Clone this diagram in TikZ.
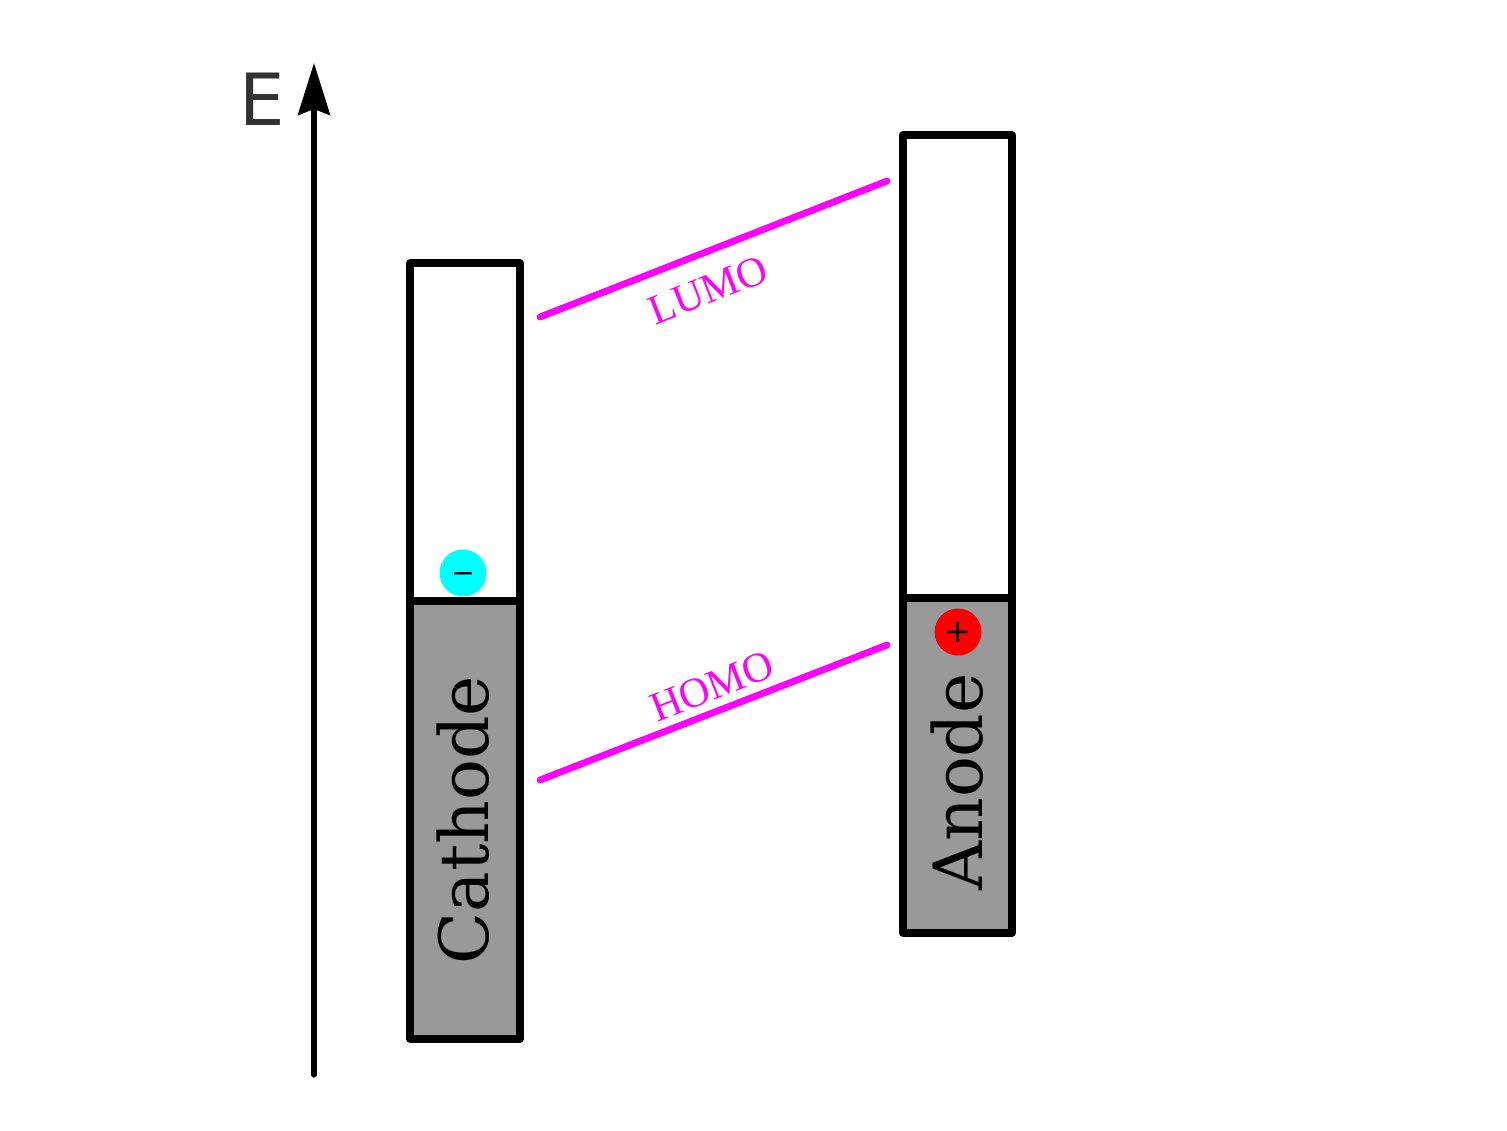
\documentclass[tikz,border=0pt]{standalone}
\usepackage{fontspec}
\setmainfont{Liberation Serif}
\newfontfamily\bandfont{DejaVu Serif}
\newfontfamily\efont{DejaVu Sans}
\newfontfamily\signfont{DejaVu Sans}
\usetikzlibrary{arrows.meta}
\definecolor{levelmag}{RGB}{255,0,255}
\definecolor{bandgray}{RGB}{153,153,153}
\definecolor{edark}{RGB}{51,51,51}
\definecolor{holecyan}{RGB}{0,255,255}
\definecolor{elred}{RGB}{255,0,0}
\begin{document}
\begin{tikzpicture}[x=0.5pt,y=-0.5pt,
  bandbox/.style={draw=black, line width=3.6pt, line join=round},
  levelline/.style={draw=levelmag, line width=3.4pt, line cap=round},
  levellabel/.style={text=levelmag, font=\fontsize{21}{21}\selectfont, inner sep=0pt},
  bandlabel/.style={font=\bandfont\fontsize{34}{34}\selectfont, rotate=90, inner sep=0pt},
  charge/.style={circle, minimum size=23.5pt, inner sep=0pt}]
\useasboundingbox (0,0) rectangle (1507,1130);
% axis
\coordinate (axb) at (314,1075);
\coordinate (axt) at (314,63);
\draw[line width=2.6pt, line cap=round, -{Stealth[length=26pt,width=16pt,inset=3pt]}] (axb) -- (axt);
\node[text=edark, font=\efont\fontsize{36}{36}\selectfont, inner sep=0pt] (E) at (262,99) {E};
% cathode
\filldraw[bandbox, fill=white] (410,263) rectangle (520,601);
\filldraw[bandbox, fill=bandgray] (410,601) rectangle (520,1039);
\node[bandlabel] (cathode) at (463,820) {Cathode};
% anode
\filldraw[bandbox, fill=white] (903,135) rectangle (1012,598);
\filldraw[bandbox, fill=bandgray] (903,598) rectangle (1012,933);
\node[bandlabel] (anode) at (957,782) {Anode};
% charges
\node[charge, fill=holecyan, font=\signfont\fontsize{14}{14}\selectfont] (neg) at (463,573) {\smash{\raisebox{-4.5pt}{−}}};
\node[charge, fill=elred, font=\signfont\fontsize{16}{16}\selectfont] (pos) at (958,632) {+};
% levels
\coordinate (lumoA) at (540,317);
\coordinate (lumoB) at (887,181);
\coordinate (homoA) at (540,780);
\coordinate (homoB) at (887,645);
\draw[levelline] (lumoA) -- (lumoB);
\draw[levelline] (homoA) -- (homoB);
\node[levellabel, rotate=21.4] (lumo) at (708,290) {LUMO};
\node[levellabel, rotate=21.4] (homo) at (712,686) {HOMO};
\end{tikzpicture}
\end{document}
